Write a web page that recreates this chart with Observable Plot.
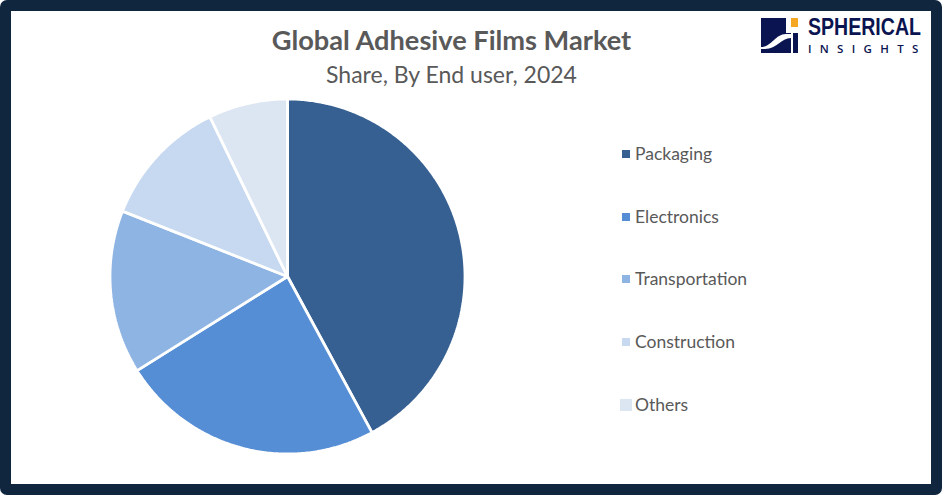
<!DOCTYPE html>
<html>
<head>
<meta charset="utf-8">
<script src="https://cdn.jsdelivr.net/npm/d3@7"></script>
<script src="https://cdn.jsdelivr.net/npm/@observablehq/plot@0.6"></script>
<style>
html,body{margin:0;padding:0;background:#fff;}
#frame{position:relative;width:942px;height:495px;overflow:hidden;font-family:Lato,sans-serif;background:#fff;}
#frame svg{display:block;}
#border{position:absolute;left:0;top:0;width:942px;height:495px;box-sizing:border-box;border:11px solid #10263f;border-radius:7px;pointer-events:none;}
.t{position:absolute;left:0;width:903px;text-align:center;white-space:nowrap;color:#595959;}
#title{top:23px;font-size:27.2px;font-weight:700;line-height:34px;}
#subtitle{top:59px;font-size:23px;line-height:30px;}
.lg{position:absolute;left:635px;font-size:17.5px;line-height:22px;color:#595959;white-space:nowrap;}
.sw{position:absolute;}
#logo{position:absolute;left:755px;top:12px;}
.brand{position:absolute;left:808px;color:#0a1450;white-space:nowrap;transform-origin:0 50%;}
#b1{top:16px;font:700 24px/22px "Liberation Sans",sans-serif;}
#b2{top:44px;font:600 11.5px/10px "Open Sans",sans-serif;letter-spacing:8.3px;}
</style>
</head>
<body>
<div id="frame"></div>
<script>
const categories = ["Packaging","Electronics","Transportation","Construction","Others"];
const shares = [42.1,24,14.9,11.8,7.2];
const colors = ["#376092","#558ed5","#8eb4e3","#c6d9f1","#dce6f2"];
const legendTops = [154,217,279,342,405];
const legendSizes = [8,8,8,8,12];

const width = 942, height = 495, cx = 287, cy = 276, radius = 177.5;

const arcs = d3.pie().sort(null)(shares);
const outline = [];
arcs.forEach((a,i)=>{
  const steps = Math.ceil((a.endAngle-a.startAngle)/0.01);
  outline.push({k:categories[i],x:0,y:0});
  for(let s=0;s<=steps;s++){
    const t = a.startAngle+(a.endAngle-a.startAngle)*s/steps;
    outline.push({k:categories[i],x:Math.sin(t),y:Math.cos(t)});
  }
  outline.push({k:categories[i],x:0,y:0});
});

const chart = Plot.plot({
  width,height,margin:0,
  x:{domain:[-cx/radius,(width-cx)/radius],axis:null},
  y:{domain:[(cy-height)/radius,cy/radius],axis:null},
  color:{domain:categories,range:colors},
  marks:[
    Plot.line(outline,{x:"x",y:"y",z:"k",fill:"k",stroke:"#fff",strokeWidth:2.8,strokeLinejoin:"miter",curve:"linear"})
  ]
});
const frame = document.getElementById("frame");
frame.appendChild(chart);

function add(cls,id,text,style){
  const d=document.createElement("div");
  if(cls)d.className=cls; if(id)d.id=id;
  if(text)d.textContent=text;
  Object.assign(d.style,style||{});
  frame.appendChild(d);
  return d;
}
add("t","title","Global Adhesive Films Market");
add("t","subtitle","Share, By End user, 2024");
categories.forEach((c,i)=>{
  const s=legendSizes[i];
  add("sw",null,"",{top:(legendTops[i]-s/2)+"px",width:s+"px",height:s+"px",left:(626-s/2)+"px",background:colors[i]});
  add("lg",null,c,{top:(legendTops[i]-11)+"px"});
});
frame.insertAdjacentHTML("beforeend",`
<svg id="logo" width="50" height="48" viewBox="0 0 50 48">
  <rect x="6" y="6" width="36" height="35" fill="#0a1450"/>
  <rect x="36" y="6" width="7" height="9" fill="#f5a623"/>
  <rect x="31" y="6" width="5" height="15" fill="#fff"/>
  <rect x="35" y="15" width="8" height="3" fill="#fff"/>
  <path d="M6 35 C17 35 20 22 31 22 L36 22 L36 26 C26 26 22 37 10 37 L6 37 Z" fill="#fff"/>
  <rect x="36" y="18" width="7" height="23" fill="#fff"/>
  <rect x="38" y="21" width="5" height="20" fill="#0a1450"/>
</svg>`);
const b1=add("brand","b1","SPHERICAL");
b1.style.transform=`scaleX(${113/b1.getBoundingClientRect().width})`;
add("brand","b2","INSIGHTS");
add(null,"border");
</script>
</body>
</html>
